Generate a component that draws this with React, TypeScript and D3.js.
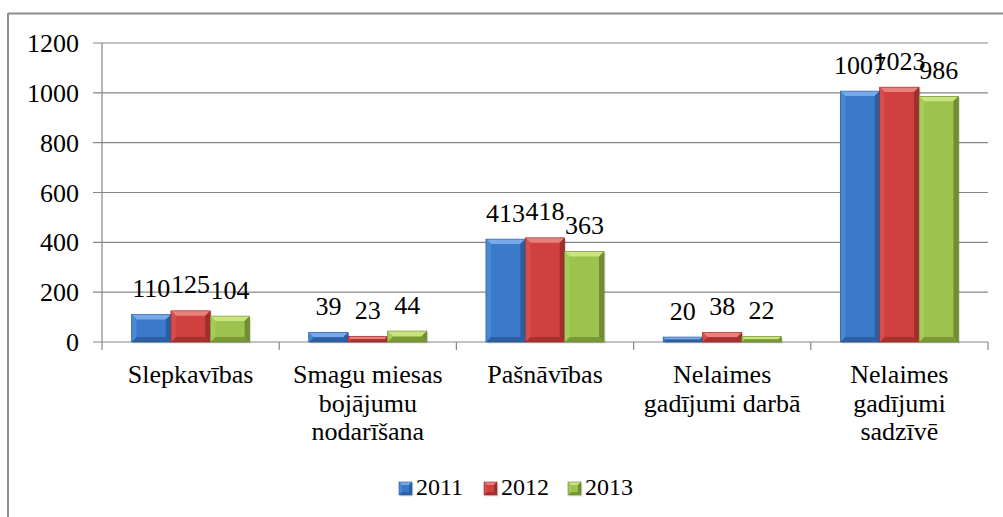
import React from "react";
import * as d3 from "d3";

const categories = [
  "Slepkavības",
  "Smagu miesas bojājumu nodarīšana",
  "Pašnāvības",
  "Nelaimes gadījumi darbā",
  "Nelaimes gadījumi sadzīvē",
];
const categoryLines = [
  ["Slepkavības"],
  ["Smagu miesas", "bojājumu", "nodarīšana"],
  ["Pašnāvības"],
  ["Nelaimes", "gadījumi darbā"],
  ["Nelaimes", "gadījumi", "sadzīvē"],
];
const years = ["2011", "2012", "2013"];
const values2011 = [110, 39, 413, 20, 1007];
const values2012 = [125, 23, 418, 38, 1023];
const values2013 = [104, 44, 363, 22, 986];
const yTicks = [0, 200, 400, 600, 800, 1000, 1200];

const palette = [
  { face: "#3b7acb", top: "#78aaea", left: "#4a88d6", right: "#2b5e9e", bottom: "#2c60a3", stroke: "#2a5894" },
  { face: "#cf403f", top: "#e8807d", left: "#d64d4c", right: "#9f2e2d", bottom: "#a63130", stroke: "#962b2a" },
  { face: "#9cc34d", top: "#c9e47e", left: "#a6ca5b", right: "#718c32", bottom: "#789936", stroke: "#6c8830" },
];

const FONT = "Tinos, 'Liberation Serif', 'DejaVu Serif', serif";

function BevelRect({ x0, x1, y0, y1, c, bev }: any) {
  const w = x1 - x0;
  const h = y1 - y0;
  const b = Math.max(0, Math.min(bev, h / 2, w / 2));
  const pts = (a: number[][]) => a.map((p) => p.join(",")).join(" ");
  return (
    <g>
      <rect x={x0 + 1.5} y={y0 + 1.5} width={w} height={h} fill="#000" opacity={0.12} />
      <rect x={x0} y={y0} width={w} height={h} fill={c.face} />
      <polygon points={pts([[x0, y0], [x1, y0], [x1 - b, y0 + b], [x0 + b, y0 + b]])} fill={c.top} />
      <polygon points={pts([[x0, y1], [x1, y1], [x1 - b, y1 - b], [x0 + b, y1 - b]])} fill={c.bottom} />
      <polygon points={pts([[x0, y0], [x0 + b, y0 + b], [x0 + b, y1 - b], [x0, y1]])} fill={c.left} />
      <polygon points={pts([[x1, y0], [x1 - b, y0 + b], [x1 - b, y1 - b], [x1, y1]])} fill={c.right} />
      <rect x={x0} y={y0} width={w} height={h} fill="none" stroke={c.stroke} strokeWidth={0.6} />
    </g>
  );
}

export default function App() {
  const W = 1003;
  const H = 517;
  const series = [values2011, values2012, values2013];

  const x = d3.scaleBand<string>().domain(categories).range([102, 988]).paddingInner(0).paddingOuter(0);
  const xi = d3
    .scaleBand<string>()
    .domain(years)
    .range([0, x.bandwidth()])
    .paddingInner(0)
    .paddingOuter(0.75);
  const y = d3.scaleLinear().domain([0, 1200]).range([342, 43]);

  const boundaries = categories.map((c) => x(c) as number).concat([x.range()[1]]);

  const legendX = [399, 484, 568];
  const ts = { fontFamily: FONT };

  return (
    <svg width={W} height={H} style={{ position: "absolute", left: 0, top: 0, fontFamily: FONT }}>
      {/* chart frame */}
      <line x1={8} y1={13.5} x2={W} y2={13.5} stroke="#8e8e8e" strokeWidth={2} />
      <line x1={8} y1={13} x2={8} y2={H} stroke="#8e8e8e" strokeWidth={2} />

      {/* gridlines */}
      {yTicks.map((t) => (
        <line key={"g" + t} x1={93} x2={988} y1={y(t)} y2={y(t)} stroke="#878787" strokeWidth={1.2} />
      ))}
      {/* y axis */}
      <line x1={102} x2={102} y1={y(1200)} y2={y(0)} stroke="#878787" strokeWidth={1.2} />
      {yTicks.map((t) => (
        <text key={"yl" + t} x={79} y={y(t) + 9} textAnchor="end" fontSize={26} fontFamily={FONT} style={ts}>
          {String(t)}
        </text>
      ))}
      {/* x ticks */}
      {boundaries.map((b, i) => (
        <line key={"xt" + i} x1={b} x2={b} y1={y(0)} y2={y(0) + 8} stroke="#878787" strokeWidth={1.2} />
      ))}

      {/* bars */}
      {categories.map((cat, ci) =>
        years.map((yr, si) => {
          const x0 = (x(cat) as number) + (xi(yr) as number);
          const x1 = x0 + xi.bandwidth();
          const v = series[si][ci];
          return (
            <BevelRect key={cat + yr} x0={x0} x1={x1} y0={y(v)} y1={y(0)} c={palette[si]} bev={5} />
          );
        })
      )}

      {/* data labels */}
      {categories.map((cat, ci) =>
        years.map((yr, si) => {
          const cx = (x(cat) as number) + (xi(yr) as number) + xi.bandwidth() / 2;
          const v = series[si][ci];
          return (
            <text key={"dl" + cat + yr} x={cx} y={y(v) - 17.5} textAnchor="middle" fontSize={26} fontFamily={FONT} style={ts}>
              {String(v)}
            </text>
          );
        })
      )}

      {/* category labels */}
      {categories.map((cat, ci) => {
        const cx = (x(cat) as number) + x.bandwidth() / 2;
        return categoryLines[ci].map((ln, li) => (
          <text key={"cl" + cat + li} x={cx} y={383 + li * 28.5} textAnchor="middle" fontSize={26} fontFamily={FONT} style={ts}>
            {ln}
          </text>
        ));
      })}

      {/* legend */}
      {years.map((yr, si) => (
        <g key={"lg" + yr}>
          <BevelRect x0={legendX[si]} x1={legendX[si] + 13} y0={482} y1={495} c={palette[si]} bev={3} />
          <text x={legendX[si] + 17} y={495} fontSize={24} fontFamily={FONT} style={ts}>
            {yr}
          </text>
        </g>
      ))}
    </svg>
  );
}
